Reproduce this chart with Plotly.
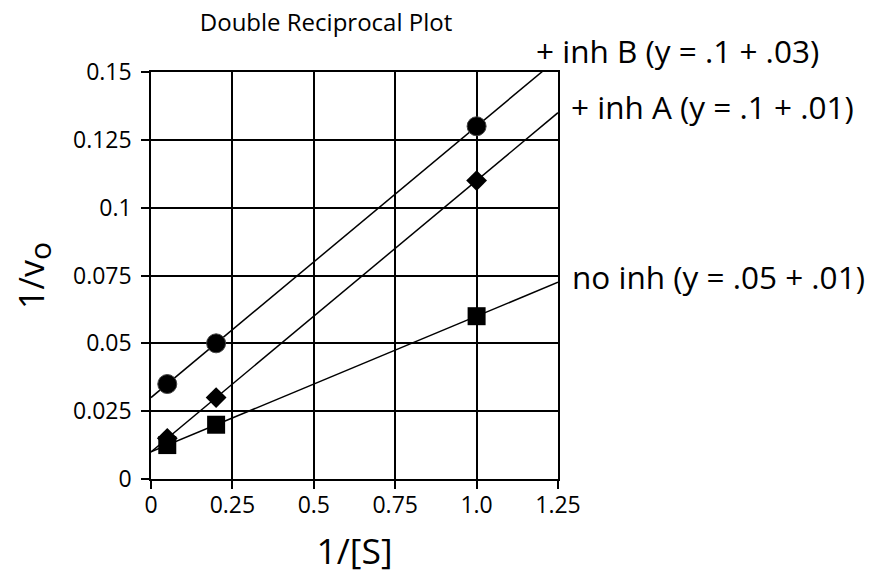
import plotly.graph_objects as go

# Data
x_vals = [0.05, 0.2, 1.0]
no_inh = [0.0125, 0.02, 0.06]
inh_a = [0.015, 0.03, 0.11]
inh_b = [0.035, 0.05, 0.13]

# fitted lines (slope, intercept)
fit_names = ["no inh", "+ inh A", "+ inh B"]
fit_slopes = [0.05, 0.1, 0.1]
fit_intercepts = [0.01, 0.01, 0.03]
fit_x = [0.0, 1.25]

x_ticks = [0, 0.25, 0.5, 0.75, 1.0, 1.25]
x_tick_labels = ["0", "0.25", "0.5", "0.75", "1.0", "1.25"]
y_ticks = [0, 0.025, 0.05, 0.075, 0.1, 0.125, 0.15]
y_tick_labels = ["0", "0.025", "0.05", "0.075", "0.1", "0.125", "0.15"]

labels = ["+ inh B (y = .1 + .03)", "+ inh A (y = .1 + .01)", "no inh (y = .05 + .01)"]

FONT = "Open Sans"
OFF = 8  # browser body margin

fig = go.Figure()

for s, b in zip(fit_slopes, fit_intercepts):
    fig.add_trace(go.Scatter(
        x=fit_x, y=[b + s * xx for xx in fit_x], mode="lines",
        line=dict(color="black", width=1.5), showlegend=False, hoverinfo="skip"))

fig.add_trace(go.Scatter(x=x_vals, y=no_inh, mode="markers",
                         marker=dict(symbol="square", size=18, color="black"),
                         showlegend=False, cliponaxis=False))
fig.add_trace(go.Scatter(x=x_vals, y=inh_a, mode="markers",
                         marker=dict(symbol="diamond", size=16, color="black"),
                         showlegend=False, cliponaxis=False))
fig.add_trace(go.Scatter(x=x_vals, y=inh_b, mode="markers",
                         marker=dict(symbol="circle", size=19, color="black",
                                     line=dict(color="#444", width=1)),
                         showlegend=False, cliponaxis=False))

W, H = 879 - 2 * OFF, 582 - 2 * OFF
# plot area in screen pixels
px0, px1, py0, py1 = 151, 558, 72, 479
L = px0 - OFF
T = py0 - OFF
R = W - (px1 - OFF)
B = H - (py1 - OFF)

axis_common = dict(
    showgrid=True, gridcolor="black", gridwidth=1.5,
    showline=True, linecolor="black", linewidth=1.5, mirror=True,
    ticks="outside", ticklen=8, tickwidth=1.5, tickcolor="black",
    zeroline=False, automargin=False,
    tickfont=dict(family=FONT, size=23, color="black"),
)

fig.update_layout(
    width=W, height=H,
    margin=dict(l=L, r=R, t=T, b=B, autoexpand=False),
    paper_bgcolor="white", plot_bgcolor="white",
    font=dict(family=FONT, color="black"),
    title=dict(text="Double Reciprocal Plot", x=(326 - OFF) / W, xanchor="center",
               yref="container", y=1 - (23 - OFF) / H, yanchor="middle",
               font=dict(family=FONT, size=24, color="black")),
    xaxis=dict(range=[0, 1.25], tickvals=x_ticks, ticktext=x_tick_labels,
               ticklabelstandoff=-3,
               title=dict(text="1/[S]", font=dict(family=FONT, size=35.5), standoff=27),
               **axis_common),
    yaxis=dict(range=[0, 0.15], tickvals=y_ticks, ticktext=y_tick_labels,
               ticklabelstandoff=5,
               title=dict(text="1/v<sub><span style=\"font-size:30px\">o</span></sub>",
                          font=dict(family=FONT, size=34), standoff=18),
               **axis_common),
)

pw = px1 - px0
ph = py1 - py0
label_pos = [(534, 50), (569, 106), (570, 276)]
for txt, (sx, sy) in zip(labels, label_pos):
    fig.add_annotation(text=txt, xref="paper", yref="paper",
                       x=(sx - px0) / pw, y=(py1 - sy) / ph,
                       xanchor="left", yanchor="middle", showarrow=False,
                       font=dict(family=FONT, size=31.5, color="black"))

fig.write_html("out.html")
